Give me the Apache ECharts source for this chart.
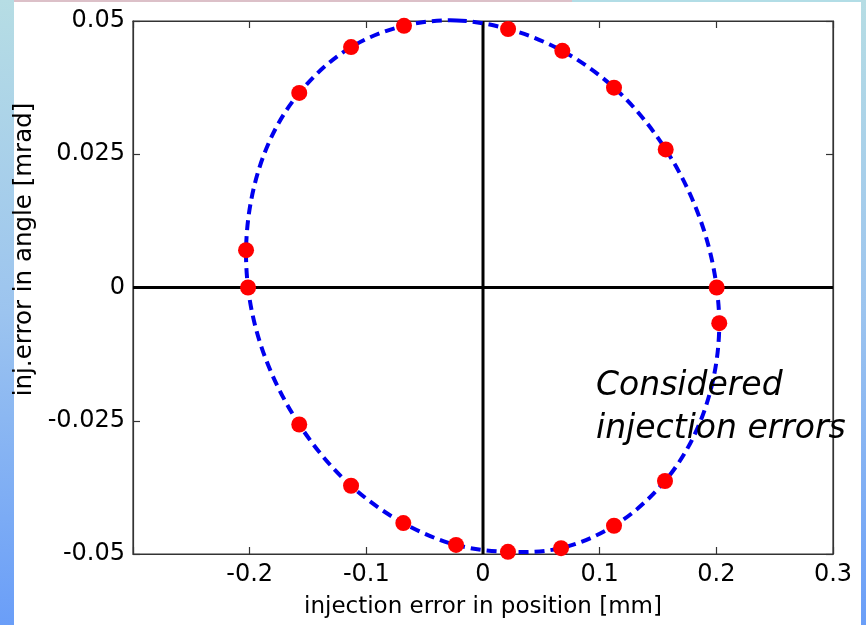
<!DOCTYPE html>
<html>
<head>
<meta charset="utf-8">
<script src="https://cdn.jsdelivr.net/npm/echarts@6/dist/echarts.min.js"></script>
<style>
html,body{margin:0;padding:0;background:#fff;}
#main{width:866px;height:625px;}
</style>
</head>
<body>
<div id="main"></div>
<script>
// Measured injection errors (position [mm], angle [mrad]), clockwise from top
const posX = [-0.0225, 0.0215, 0.068, 0.1123, 0.1566, 0.2003, 0.2025, 0.156, 0.1123, 0.0669,
              0.0214, -0.0231, -0.0683, -0.1131, -0.1575, -0.2014, -0.2031, -0.1575, -0.1131, -0.0677];
const angY = [0.0501, 0.0485, 0.0444, 0.0375, 0.0259, 0.0, -0.0067, -0.0363, -0.0447, -0.0489,
              -0.0496, -0.0483, -0.0442, -0.0372, -0.0257, 0.0, 0.007, 0.0365, 0.0451, 0.0491];
// zero reference lines
const vLineX = [0, 0];
const vLineY = [-0.05, 0.05];
const hLineX = [-0.3, 0.3];
const hLineY = [0, 0];
const xTicks = [-0.3, -0.2, -0.1, 0, 0.1, 0.2, 0.3];
const yTicks = [-0.05, -0.025, 0, 0.025, 0.05];
const xTitle = 'injection error in position [mm]';
const yTitle = 'inj.error in angle [mrad]';
const note = ['Considered', 'injection errors'];

const pts = posX.map((x, i) => [x, angY[i]]);

// closed smooth curve through the measured points (pixel space, via axis scales)
function loopPath(api) {
  const P = pts.map(p => api.coord(p));
  const n = P.length;
  const tan = [];
  for (let i = 0; i < n; i++) {
    const a = P[(i - 1 + n) % n], b = P[i], c = P[(i + 1) % n];
    const d0 = Math.hypot(b[0] - a[0], b[1] - a[1]);
    const d1 = Math.hypot(c[0] - b[0], c[1] - b[1]);
    const w0 = d1 / (d0 + d1), w1 = d0 / (d0 + d1);
    let tx = w0 * (b[0] - a[0]) / d0 + w1 * (c[0] - b[0]) / d1;
    let ty = w0 * (b[1] - a[1]) / d0 + w1 * (c[1] - b[1]) / d1;
    const L = Math.hypot(tx, ty);
    tan.push([tx / L, ty / L]);
  }
  let d = 'M' + P[0][0] + ' ' + P[0][1];
  for (let i = 0; i < n; i++) {
    const j = (i + 1) % n;
    const len = Math.hypot(P[j][0] - P[i][0], P[j][1] - P[i][1]) / 3;
    const c1 = [P[i][0] + tan[i][0] * len, P[i][1] + tan[i][1] * len];
    const c2 = [P[j][0] - tan[j][0] * len, P[j][1] - tan[j][1] * len];
    d += ' C' + c1[0] + ' ' + c1[1] + ' ' + c2[0] + ' ' + c2[1] + ' ' + P[j][0] + ' ' + P[j][1];
  }
  return d + ' Z';
}

const FONT = 'DejaVu Sans';
const chart = echarts.init(document.getElementById('main'));
const axisCommon = {
  type: 'value',
  splitLine: { show: false },
  axisLine: { show: true, onZero: false, lineStyle: { color: '#333', width: 1.2 } },
  axisTick: { show: true, inside: true, length: 7, lineStyle: { color: '#333', width: 1.2 } }
};
chart.setOption({
  animation: false,
  backgroundColor: '#ffffff',
  grid: { left: 133, right: 33, top: 21, bottom: 71, show: true, borderColor: '#333', borderWidth: 1.2, backgroundColor: 'transparent' },
  xAxis: [
    Object.assign({}, axisCommon, {
      position: 'bottom', min: xTicks[0], max: xTicks[xTicks.length - 1], interval: 0.1,
      name: xTitle, nameLocation: 'middle', nameGap: 42,
      nameTextStyle: { fontFamily: FONT, fontSize: 23, color: '#000' },
      axisLabel: {
        fontFamily: FONT, fontSize: 24, color: '#000', margin: 9,
        formatter: v => { const r = Math.round(v * 10) / 10; return r === -0.3 ? '' : String(r); }
      }
    }),
    Object.assign({}, axisCommon, {
      position: 'top', min: xTicks[0], max: xTicks[xTicks.length - 1], interval: 0.1,
      axisLabel: { show: false }
    })
  ],
  yAxis: [
    Object.assign({}, axisCommon, {
      position: 'left', min: yTicks[0], max: yTicks[yTicks.length - 1], interval: 0.025,
      name: yTitle, nameLocation: 'middle', nameGap: 87,
      nameTextStyle: { fontFamily: FONT, fontSize: 24.5, color: '#000', padding: [0, 0, 0, 76] },
      axisLabel: {
        fontFamily: FONT, fontSize: 24, color: '#000', margin: 8,
        formatter: v => String(parseFloat(v.toFixed(3)))
      }
    }),
    Object.assign({}, axisCommon, {
      position: 'right', min: yTicks[0], max: yTicks[yTicks.length - 1], interval: 0.025,
      axisLabel: { show: false }
    })
  ],
  graphic: [
    { type: 'rect', shape: { x: 0, y: 0, width: 14, height: 625 }, z: -10,
      style: { fill: new echarts.graphic.LinearGradient(0, 0, 0, 1, [
        { offset: 0, color: '#b6dde4' }, { offset: 0.5, color: '#9cc4ef' }, { offset: 1, color: '#6a9ef8' }]) } },
    { type: 'rect', shape: { x: 861, y: 0, width: 5, height: 625 }, z: -10,
      style: { fill: new echarts.graphic.LinearGradient(0, 0, 0, 1, [
        { offset: 0, color: '#b6dde4' }, { offset: 0.5, color: '#9cc4ef' }, { offset: 1, color: '#6a9ef8' }]) } },
    { type: 'rect', shape: { x: 14, y: 0, width: 558, height: 2 }, z: -10, style: { fill: '#dcc0c8' } },
    { type: 'rect', shape: { x: 572, y: 0, width: 289, height: 2 }, z: -10, style: { fill: '#b2dde6' } },
    { type: 'text', left: 596, top: 365, z: 100,
      style: { text: note.join('\n'), fontFamily: FONT, fontStyle: 'italic', fontSize: 33, lineHeight: 43, fill: '#000' } }
  ],
  series: [
    { type: 'line', data: vLineX.map((x, i) => [x, vLineY[i]]), showSymbol: false, silent: true, z: 1,
      lineStyle: { color: '#000', width: 3 } },
    { type: 'line', data: hLineX.map((x, i) => [x, hLineY[i]]), showSymbol: false, silent: true, z: 1,
      lineStyle: { color: '#000', width: 3 } },
    { type: 'custom', data: pts, silent: true, z: 2, clip: false,
      renderItem: (params, api) => {
        if (params.dataIndex !== 0) return null;
        return { type: 'path', shape: { pathData: loopPath(api) },
          style: { fill: 'none', stroke: '#0000ee', lineWidth: 4, lineDash: [10, 6] } };
      } },
    { type: 'scatter', data: pts, symbol: 'circle', symbolSize: 16, z: 3,
      itemStyle: { color: '#ff0000', opacity: 1 } }
  ]
});
</script>
</body>
</html>
